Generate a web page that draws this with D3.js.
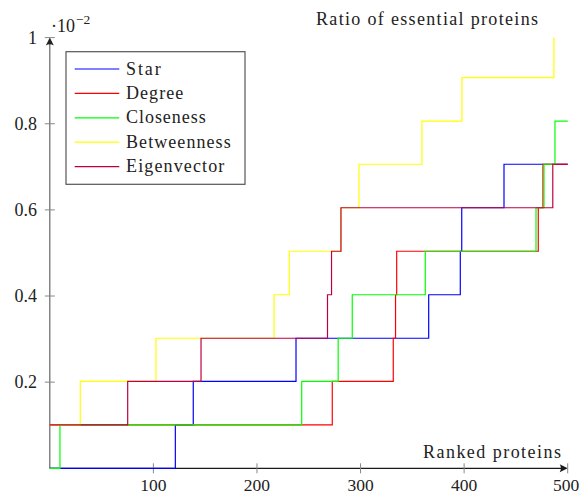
<!DOCTYPE html>
<html>
<head>
<meta charset="utf-8">
<script src="https://cdn.jsdelivr.net/npm/d3@7"></script>
<style>
  html, body { margin: 0; padding: 0; background: #fff; }
  svg { display: block; }
  text { font-family: "Liberation Serif", "Times New Roman", serif; fill: #222; }
</style>
</head>
<body>
<svg id="chart" width="582" height="494"></svg>
<script>
// ---------- data ----------
const seriesNames = ["Star", "Degree", "Closeness", "Betweenness", "Eigenvector"];

const starX = [0, 121.2, 138.5, 237.7, 365.8, 396.3, 397.7, 438.5];
const starY = [0, 0.101, 0.202, 0.302, 0.403, 0.504, 0.605, 0.706];

const degreeX = [0, 272.7, 331.6, 333.8, 334.9, 471.6, 476.1];
const degreeY = [0.101, 0.202, 0.302, 0.403, 0.504, 0.605, 0.706];

const closenessX = [0, 9.8, 243.2, 278.4, 292.0, 362.5, 469.4, 477.1, 487.7];
const closenessY = [0, 0.101, 0.202, 0.302, 0.403, 0.504, 0.605, 0.706, 0.806];

const betweennessX = [0, 29.4, 102.5, 216.5, 231.2, 281.1, 298.5, 359.3, 397.9, 486.7];
const betweennessY = [0.101, 0.202, 0.302, 0.403, 0.504, 0.605, 0.706, 0.806, 0.907, 1.008];

const eigenvectorX = [0, 75.2, 146.0, 268.1, 272.0, 281.1, 485.6];
const eigenvectorY = [0.101, 0.202, 0.302, 0.403, 0.504, 0.605, 0.706];

const xTicks = [100, 200, 300, 400, 500];
const yTicks = [0.2, 0.4, 0.6, 0.8, 1];
const xDomain = [0, 500];
const yDomain = [0, 1];

// ---------- styles ----------
const colors = ["#0000ff", "#ff0000", "#00ff00", "#ffff00", "#bf0040"];
const legendTextLen = [34.7, 57.3, 79.7, 104.7, 98.3];

const svg = d3.select("#chart");
const x = d3.scaleLinear().domain(xDomain).range([49.8, 567.7]);
const y = d3.scaleLinear().domain(yDomain).range([468.3, 37.6]);

svg.append("defs").append("clipPath").attr("id", "plotclip")
  .append("rect")
  .attr("x", x(0) - 1).attr("y", y(1))
  .attr("width", x(500) - x(0) + 3).attr("height", y(0) - y(1) + 1.5);

// ---------- axes (drawn beneath series) ----------
const axisG = svg.append("g");
axisG.append("line")
  .attr("x1", x(0)).attr("x2", x(0))
  .attr("y1", y(0)).attr("y2", y(1) + 2)
  .attr("stroke", "#666").attr("stroke-width", 1.2);
axisG.append("line")
  .attr("x1", x(0)).attr("x2", x(500) - 2)
  .attr("y1", y(0)).attr("y2", y(0))
  .attr("stroke", "#1a1a1a").attr("stroke-width", 1.2);

function arrow(tx, ty, dir, color) {
  let p;
  if (dir === "right") {
    p = `M${tx},${ty} L${tx - 8},${ty - 4} Q${tx - 5.5},${ty} ${tx - 8},${ty + 4} Z`;
  } else {
    p = `M${tx},${ty} L${tx - 4},${ty + 8} Q${tx},${ty + 5.5} ${tx + 4},${ty + 8} Z`;
  }
  axisG.append("path").attr("d", p).attr("fill", color);
}
arrow(x(500), y(0), "right", "#1a1a1a");
arrow(x(0), y(1), "up", "#222");

xTicks.forEach(t => {
  axisG.append("line")
    .attr("x1", x(t)).attr("x2", x(t))
    .attr("y1", y(0) - 5).attr("y2", y(0) + 5)
    .attr("stroke", "#888").attr("stroke-width", 1);
  axisG.append("text")
    .attr("x", Math.min(x(t), 566)).attr("y", 490.5)
    .attr("text-anchor", "middle")
    .attr("font-size", 17.5)
    .text(d3.format("d")(t));
});

yTicks.forEach(t => {
  axisG.append("line")
    .attr("x1", x(0) - 5).attr("x2", x(0) + 5)
    .attr("y1", y(t)).attr("y2", y(t))
    .attr("stroke", "#888").attr("stroke-width", 1);
  axisG.append("text")
    .attr("x", 37).attr("y", y(t) + 6)
    .attr("text-anchor", "end")
    .attr("font-size", 18)
    .text(t === 1 ? "1" : d3.format(".1f")(t));
});

// ---------- series ----------
const seriesData = [
  [starX, starY], [degreeX, degreeY], [closenessX, closenessY],
  [betweennessX, betweennessY], [eigenvectorX, eigenvectorY]
].map(([xs, ys]) => {
  const pts = xs.map((v, i) => [v, ys[i]]);
  pts.push([xDomain[1], ys[ys.length - 1]]);
  return pts;
});

const line = d3.line().x(d => x(d[0])).y(d => y(d[1])).curve(d3.curveStepAfter);

const plot = svg.append("g").attr("clip-path", "url(#plotclip)");
seriesData.forEach((pts, i) => {
  plot.append("path")
    .attr("d", line(pts))
    .attr("fill", "none")
    .attr("stroke", colors[i])
    .attr("stroke-width", 1.2);
});

// scale multiplier  ·10^-2
const mult = svg.append("text").attr("x", 51).attr("y", 32).attr("font-size", 18);
mult.append("tspan").text("·10");
mult.append("tspan").attr("dx", 1).attr("dy", -8).attr("font-size", 13.5).text("−2");

// axis labels
svg.append("text")
  .attr("x", 316).attr("y", 25)
  .attr("font-size", 18)
  .attr("textLength", 222).attr("lengthAdjust", "spacing")
  .text("Ratio of essential proteins");
svg.append("text")
  .attr("x", 423).attr("y", 458)
  .attr("font-size", 18)
  .attr("textLength", 138).attr("lengthAdjust", "spacing")
  .text("Ranked proteins");

// ---------- legend ----------
const lg = svg.append("g");
lg.append("rect")
  .attr("x", 66).attr("y", 51.7)
  .attr("width", 179).attr("height", 132.6)
  .attr("fill", "#fff").attr("stroke", "#555").attr("stroke-width", 1.2);
seriesNames.forEach((name, i) => {
  const ly = 69 + i * 24.4;
  lg.append("line")
    .attr("x1", 74.7).attr("x2", 119.3)
    .attr("y1", ly).attr("y2", ly)
    .attr("stroke", colors[i]).attr("stroke-width", 1.2);
  lg.append("text")
    .attr("x", 126).attr("y", ly + 5.5)
    .attr("font-size", 18)
    .attr("textLength", legendTextLen[i]).attr("lengthAdjust", "spacing")
    .text(name);
});
</script>
</body>
</html>
